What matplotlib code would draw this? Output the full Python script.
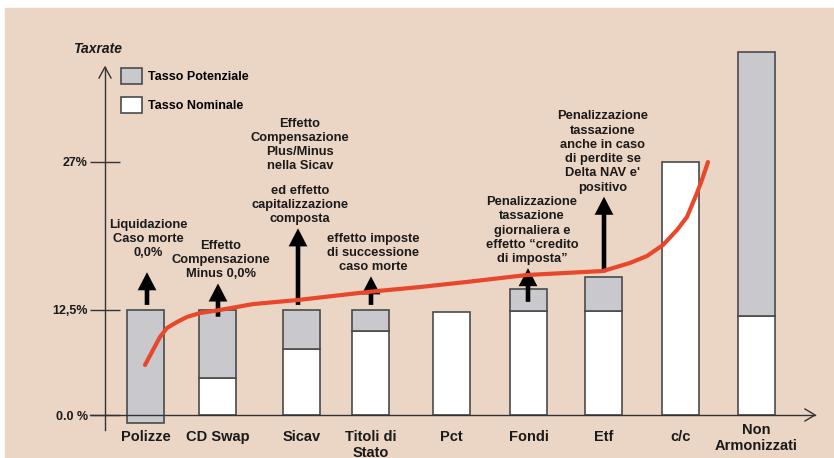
import numpy as np
import matplotlib
matplotlib.use('Agg')
import matplotlib.pyplot as plt
from matplotlib.patches import Patch, Rectangle

# categories and rates (percent)
categories = ['Polizze', 'CD Swap', 'Sicav', 'Titoli di\nStato', 'Pct', 'Fondi', 'Etf', 'c/c', 'Non\nArmonizzati']
bar_x = [145.5, 217.5, 301.5, 370.5, 451.5, 528.5, 603.5, 680.5, 756.5]
tasso_nominale = [0.0, 4.4, 7.9, 10.0, 12.3, 12.4, 12.4, 27.0, 11.8]
tasso_potenziale = [12.5, 12.5, 12.5, 12.5, 12.3, 14.6, 15.7, 27.0, 37.8]
bar_floor = [-1.0, 0, 0, 0, 0, 0, 0, 0, 0]

# red trend line
curve_x = [145, 153, 160, 167, 177, 187, 200, 220, 253, 298, 371, 420, 467, 527, 603, 630,
           647, 663, 677, 687, 697, 703, 708]
curve_y = [5.95, 7.74, 9.29, 10.36, 11.07, 11.67, 12.14, 12.5, 13.08, 13.48, 14.3, 14.75, 15.25,
           15.93, 16.32, 17.11, 17.79, 18.87, 20.34, 21.62, 23.97, 25.54, 27.0]

# effect arrows
arrow_x = [147, 218, 298, 371, 528, 604]
arrow_from = [13.0, 11.7, 13.0, 13.0, 13.3, 16.2]
arrow_to = [16.2, 15.1, 20.5, 15.8, 16.6, 23.6]
notes = [
    ['Liquidazione\nCaso morte\n0,0%'],
    ['Effetto\nCompensazione\nMinus 0,0%'],
    ['ed effetto\ncapitalizzazione\ncomposta', 'Effetto\nCompensazione\nPlus/Minus\nnella Sicav'],
    ['effetto imposte\ndi successione\ncaso morte'],
    ['Penalizzazione\ntassazione\ngiornaliera e\neffetto \u201ccredito\ndi imposta\u201d'],
    ['Penalizzazione\ntassazione\nanche in caso\ndi perdite se\nDelta NAV e\'\npositivo'],
]
note_dx = [1, 3, 2, 2, 4, -1]
note_dy = [13, 3, 3, 3, 3, 3]

ytick_vals = [0, 12.5, 27]
ytick_labels = ['0.0 %', '12,5%', '27%']

BG = '#EBD5C5'
GREY = '#C8C8CD'
EDGE = '#4a4a4a'
RED = '#E8472B'
FONT = 'Liberation Sans'

# piecewise y scale (the axis is not linear above 12.5%)
PX = [-84.0, 0.0, 105.0, 253.0, 590.0]
VAL = [-10.0, 0.0, 12.5, 27.0, 60.0]


def fwd(v):
    return np.interp(v, VAL, PX)


def inv(p):
    return np.interp(p, PX, VAL)


def row(y):
    # image row -> data value
    return inv(415 - y)


fig = plt.figure(figsize=(8.34, 4.58), dpi=100, facecolor='white')
fig.patches.append(Rectangle((5 / 834, 0), 1, 450 / 458, transform=fig.transFigure,
                             color=BG, zorder=-10))
ax = fig.add_axes([0, 0, 1, 1])
ax.set_facecolor('none')
ax.set_yscale('function', functions=(fwd, inv))
ax.set_xlim(0, 834)
ax.set_ylim(row(458), row(0))

nom = np.array(tasso_nominale)
pot = np.array(tasso_potenziale)
floor = np.array(bar_floor)
xs = np.array(bar_x)

m = nom > 0
ax.bar(xs[m], nom[m], width=37, color='white', edgecolor=EDGE, linewidth=1.2, zorder=2)
g_bottom = np.where(nom > 0, nom, floor)
g = pot > g_bottom
ax.bar(xs[g], (pot - g_bottom)[g], bottom=g_bottom[g], width=37, color=GREY,
       edgecolor=EDGE, linewidth=1.2, zorder=2)

for x, a, b, blocks, dx, dy in zip(arrow_x, arrow_from, arrow_to, notes, note_dx, note_dy):
    ax.annotate('', xy=(x, b), xytext=(x, a),
                arrowprops=dict(arrowstyle='simple,head_length=1.3,head_width=1.35,tail_width=0.33',
                                lw=0, fc='black', ec='none', shrinkA=0, shrinkB=0,
                                mutation_scale=10), zorder=3)
    offs = [dy, dy + 53]
    for txt, oy in zip(blocks, offs):
        ax.annotate(txt, xy=(x, b), xytext=(dx, oy), textcoords='offset pixels',
                    ha='center', va='bottom', multialignment='center',
                    fontsize=9.3, fontweight='bold', family=FONT, color='#1a1a1a',
                    linespacing=1.25, zorder=5)

ax.plot(curve_x, curve_y, color=RED, lw=3, solid_capstyle='round', zorder=4)

for x, name in zip(bar_x, categories):
    top = 423 if name.startswith('Non') else 430
    ax.text(x, row(top), name, ha='center', va='top', multialignment='center',
            fontsize=10.5, fontweight='bold', family=FONT, color='#1a1a1a', linespacing=1.15)

# axes with arrows
for s in ['top', 'right']:
    ax.spines[s].set_visible(False)
ax.spines['left'].set_position(('data', 105))
ax.spines['left'].set_bounds(row(430), row(67))
ax.spines['bottom'].set_position(('data', 0))
ax.spines['bottom'].set_bounds(90, 815)
for s in ['left', 'bottom']:
    ax.spines[s].set_color('#333333')
    ax.spines[s].set_linewidth(1)
ax.plot([99, 105, 111], [row(78), row(67), row(78)], color='#333333', lw=1)
ax.plot([805, 815, 805], [row(409), row(415), row(421)], color='#333333', lw=1)

ax.set_xticks([])
ax.set_yticks(ytick_vals)
ax.set_yticklabels(ytick_labels)
ax.yaxis.set_minor_locator(matplotlib.ticker.NullLocator())
ax.tick_params(axis='y', direction='inout', length=21.6, width=1, color='#333333', pad=1.5)
for lab in ax.get_yticklabels():
    lab.set_fontsize(9)
    lab.set_fontweight('bold')
    lab.set_family(FONT)
    lab.set_color('#1a1a1a')

ax.text(73, row(49), 'Taxrate', ha='left', va='center', fontsize=10, fontweight='bold',
        style='italic', family=FONT, color='#1a1a1a')

handles = [Patch(facecolor=GREY, edgecolor=EDGE, linewidth=1.2, label='Tasso Potenziale'),
           Patch(facecolor='white', edgecolor=EDGE, linewidth=1.2, label='Tasso Nominale')]
ax.legend(handles=handles, loc='upper left', bbox_to_anchor=(121 / 834, 1 - 68 / 458),
          bbox_transform=fig.transFigure, frameon=False, borderpad=0, borderaxespad=0,
          handlelength=1.7, handleheight=1.6, labelspacing=1.0, handletextpad=0.45,
          prop=dict(family=FONT, weight='bold', size=9))

fig.savefig('out.png', dpi=100, facecolor=fig.get_facecolor())
